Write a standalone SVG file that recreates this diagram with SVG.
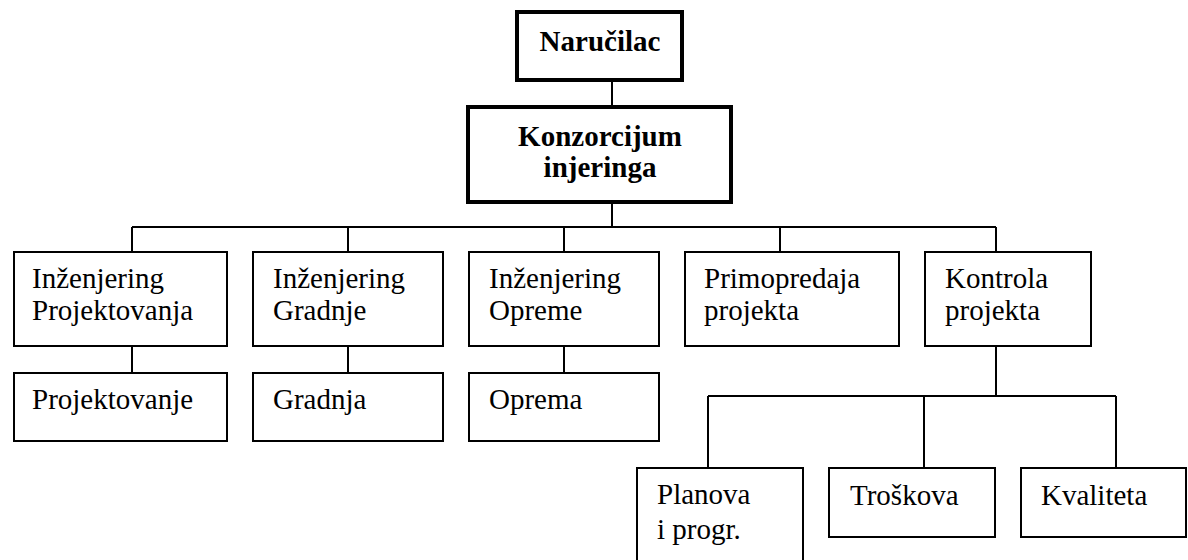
<svg xmlns="http://www.w3.org/2000/svg" width="1188" height="560" viewBox="0 0 1188 560">
  <style>
    .box { fill: #ffffff; stroke: #000000; stroke-width: 2; }
    .box-main { fill: #ffffff; stroke: #000000; stroke-width: 4; }
    .wire { fill: none; stroke: #000000; stroke-width: 2; }
    text { font-family: 'Liberation Serif', 'Times New Roman', serif; font-size: 29px; fill: #000000; }
    text.b { font-weight: bold; text-anchor: middle; }
  </style>
  <rect width="1188" height="560" fill="#ffffff"/>

  <!-- connectors -->
  <g id="connectors" class="wire">
    <path d="M612 82 V107"/>
    <path d="M612 203 V227"/>
    <path d="M132 227 H996"/>
    <path d="M132 227 V251 M348 227 V251 M564 227 V251 M780 227 V251 M996 227 V251"/>
    <path d="M132 347 V372 M348 347 V372 M564 347 V372"/>
    <path d="M996 347 V396"/>
    <path d="M708 396 H1116"/>
    <path d="M708 396 V467 M924 396 V467 M1116 396 V467"/>
  </g>

  <!-- top level -->
  <g id="narucilac">
    <rect class="box-main" x="517" y="12" width="165" height="68"/>
    <text class="b" x="600" y="51">Naručilac</text>
  </g>
  <g id="konzorcijum">
    <rect class="box-main" x="468" y="107" width="263" height="95"/>
    <text class="b" x="600" y="146">Konzorcijum</text>
    <text class="b" x="600" y="177">injeringa</text>
  </g>

  <!-- first row -->
  <g id="inz-projektovanja">
    <rect class="box" x="14" y="252" width="213" height="94"/>
    <text x="32" y="288">Inženjering</text>
    <text x="32" y="320">Projektovanja</text>
  </g>
  <g id="inz-gradnje">
    <rect class="box" x="253" y="252" width="190" height="94"/>
    <text x="273" y="288">Inženjering</text>
    <text x="273" y="320">Gradnje</text>
  </g>
  <g id="inz-opreme">
    <rect class="box" x="469" y="252" width="190" height="94"/>
    <text x="489" y="288">Inženjering</text>
    <text x="489" y="320">Opreme</text>
  </g>
  <g id="primopredaja">
    <rect class="box" x="685" y="252" width="214" height="94"/>
    <text x="704" y="288">Primopredaja</text>
    <text x="704" y="320">projekta</text>
  </g>
  <g id="kontrola">
    <rect class="box" x="925" y="252" width="166" height="94"/>
    <text x="945" y="288">Kontrola</text>
    <text x="945" y="320">projekta</text>
  </g>

  <!-- second row -->
  <g id="projektovanje">
    <rect class="box" x="14" y="373" width="213" height="68"/>
    <text x="32" y="409">Projektovanje</text>
  </g>
  <g id="gradnja">
    <rect class="box" x="253" y="373" width="190" height="68"/>
    <text x="273" y="409">Gradnja</text>
  </g>
  <g id="oprema">
    <rect class="box" x="469" y="373" width="190" height="68"/>
    <text x="489" y="409">Oprema</text>
  </g>

  <!-- project control sub-items -->
  <g id="planova">
    <rect class="box" x="637" y="468" width="166" height="110"/>
    <text x="657" y="504">Planova</text>
    <text x="657" y="539">i progr.</text>
  </g>
  <g id="troskova">
    <rect class="box" x="829" y="468" width="166" height="69"/>
    <text x="850" y="505">Troškova</text>
  </g>
  <g id="kvaliteta">
    <rect class="box" x="1021" y="468" width="165" height="69"/>
    <text x="1041" y="505">Kvaliteta</text>
  </g>
</svg>
